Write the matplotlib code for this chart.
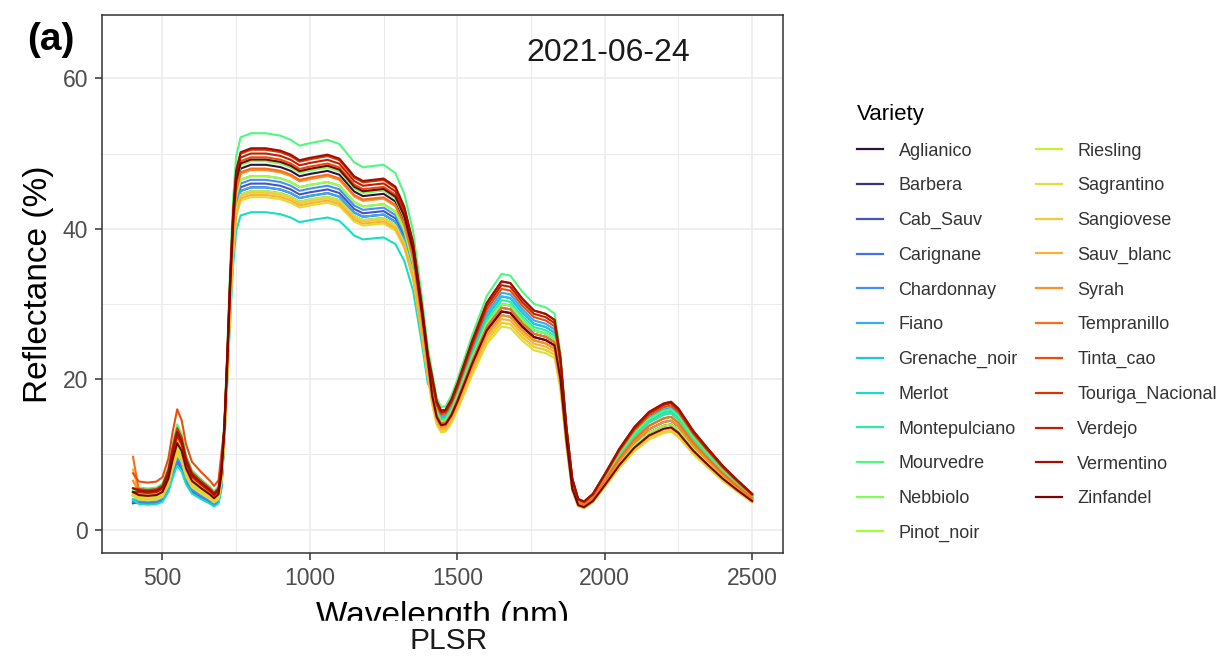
import numpy as np
import matplotlib.pyplot as plt
from matplotlib.patches import Rectangle
from matplotlib.ticker import MultipleLocator

plt.rcParams['font.family'] = ['Liberation Sans', 'DejaVu Sans']

## mean spectrum of the bundle
wavelength = [400, 420, 450, 480, 500, 520, 535, 550, 565, 580, 600, 630, 660, 675, 690,
              700, 710, 720, 730, 740, 750, 765, 800, 850, 900, 935, 965, 1000, 1060, 1100,
              1130, 1150, 1180, 1250, 1290, 1320, 1350, 1380, 1400, 1415, 1430, 1445, 1460,
              1480, 1500, 1550, 1600, 1650, 1680, 1720, 1760, 1800, 1830, 1850, 1870, 1890,
              1910, 1930, 1960, 2000, 2050, 2100, 2150, 2200, 2225, 2250, 2300, 2350, 2400,
              2450, 2500]
mean_refl = [4.5, 4.4, 4.3, 4.4, 4.8, 6.5, 9.0, 11.0, 10.0, 7.8, 6.2, 5.3, 4.5, 4.0, 4.5,
             7.0, 13.0, 22.0, 32.0, 40.0, 45.0, 47.3, 47.8, 47.8, 47.5, 47.0, 46.3, 46.6, 47.0, 46.5,
             45.2, 44.3, 43.7, 44.0, 43.0, 40.5, 36.0, 28.0, 22.0, 17.8, 15.0, 13.9, 14.0,
             15.2, 17.0, 22.0, 26.5, 29.0, 28.8, 27.0, 25.6, 25.2, 24.5, 20.0, 12.0, 6.0,
             3.6, 3.3, 4.2, 6.5, 9.5, 12.0, 13.8, 14.8, 15.0, 14.2, 11.6, 9.5, 7.5,
             5.8, 4.2]

## per variety levels (reflectance %) at 400 nm, green peak, NIR plateau, SWIR peaks
varieties = ['Aglianico', 'Barbera', 'Cab_Sauv', 'Carignane', 'Chardonnay', 'Fiano',
             'Grenache_noir', 'Merlot', 'Montepulciano', 'Mourvedre', 'Nebbiolo', 'Pinot_noir',
             'Riesling', 'Sagrantino', 'Sangiovese', 'Sauv_blanc', 'Syrah', 'Tempranillo',
             'Tinta_cao', 'Touriga_Nacional', 'Verdejo', 'Vermentino', 'Zinfandel']
blue_400 = [4.5, 3.6, 3.5, 3.7, 3.8, 4.0, 4.0, 4.0, 4.5, 5.0, 5.2, 5.0,
            4.8, 4.5, 4.6, 8.0, 6.5, 9.7, 7.5, 5.5, 5.0, 5.5, 5.0]
green_peak = [12.0, 9.0, 9.5, 9.0, 9.5, 10.0, 10.0, 8.5, 13.0, 14.0, 12.0, 11.0,
              10.5, 10.0, 10.5, 12.0, 12.5, 13.0, 16.0, 13.5, 12.5, 13.0, 11.5]
nir_800 = [48.5, 45.5, 46.0, 45.0, 46.5, 45.5, 47.0, 42.2, 49.0, 52.7, 49.0, 47.0,
           45.0, 44.2, 44.8, 44.5, 47.8, 48.0, 49.5, 50.5, 50.0, 50.7, 49.2]
swir1_peak = [29.0, 28.5, 29.5, 30.0, 31.0, 31.5, 31.0, 30.0, 30.5, 34.0, 30.0, 28.5,
              27.5, 27.0, 27.5, 28.0, 28.5, 29.5, 32.0, 33.0, 32.5, 33.0, 29.0]
swir2_peak = [14.0, 14.5, 15.0, 15.5, 16.0, 16.2, 16.0, 15.8, 15.5, 16.0, 15.0, 14.0,
              13.5, 13.0, 13.2, 13.5, 14.5, 15.0, 16.5, 17.0, 16.8, 17.0, 13.6]

wl = np.array(wavelength)
base = np.array(mean_refl)
colors = plt.get_cmap('turbo')(np.linspace(0, 1, len(varieties)))

fig = plt.figure(figsize=(12.22, 6.56), dpi=100)
ax = fig.add_axes([0.0835, 0.157, 0.5573, 0.820])

for i, name in enumerate(varieties):
    y = base.copy()
    y[wl == 400] = blue_400[i]
    vis = (wl > 400) & (wl <= 700)
    nir = (wl > 700) & (wl <= 1410)
    sw1 = (wl > 1410) & (wl <= 1880)
    sw2 = wl > 1880
    y[vis] *= green_peak[i] / 11.0
    y[nir] *= nir_800[i] / 47.8
    y[sw1] *= swir1_peak[i] / 29.0
    y[sw2] *= swir2_peak[i] / 15.0
    ax.plot(wl, y, color=colors[i], lw=1.5, label=name)

ax.set_xlim(295, 2605)
ax.set_ylim(-3.1, 68.4)
ax.xaxis.set_major_locator(MultipleLocator(500))
ax.xaxis.set_minor_locator(MultipleLocator(250))
ax.yaxis.set_major_locator(MultipleLocator(20))
ax.yaxis.set_minor_locator(MultipleLocator(10))
ax.grid(which='major', color='#ebebeb', lw=1.1)
ax.grid(which='minor', color='#ebebeb', lw=0.7)
ax.set_axisbelow(True)
ax.tick_params(which='minor', length=0)
ax.tick_params(which='major', length=5, width=1.1, color='#333333',
               labelcolor='#4d4d4d', labelsize=16.5, pad=5)
for s in ax.spines.values():
    s.set_color('#333333')
    s.set_linewidth(1.1)

ax.set_xlabel('Wavelength (nm)', fontsize=24, labelpad=8)
ax.set_ylabel('Reflectance (%)', fontsize=24, labelpad=6)
ax.text(2013, 63.3, '2021-06-24', fontsize=23, ha='center', va='center', color='#1a1a1a')

fig.text(27 / 1222, 1 - 40 / 656, '(a)', fontsize=28, fontweight='bold', va='center', ha='left')

# the x title is cut off in the original figure
fig.patches.append(Rectangle((250 / 1222, 0), 450 / 1222, (656 - 621) / 656,
                             transform=fig.transFigure, color='white', zorder=5))
fig.text(449 / 1222, 1 - 641 / 656, 'PLSR', fontsize=21.5, ha='center', va='center',
         color='#1a1a1a', zorder=6)

leg = fig.legend(loc='upper left', bbox_to_anchor=(848 / 1222, 1 - 95 / 656), ncol=2,
                 frameon=False, title='Variety', fontsize=13, title_fontsize=16,
                 handlelength=1.45, handletextpad=0.85, labelspacing=0.98,
                 columnspacing=1.0, borderpad=0, alignment='left')
for line in leg.get_lines():
    line.set_linewidth(1.6)
for t in leg.get_texts():
    t.set_color('#333333')

plt.savefig('out.png', dpi=100)
